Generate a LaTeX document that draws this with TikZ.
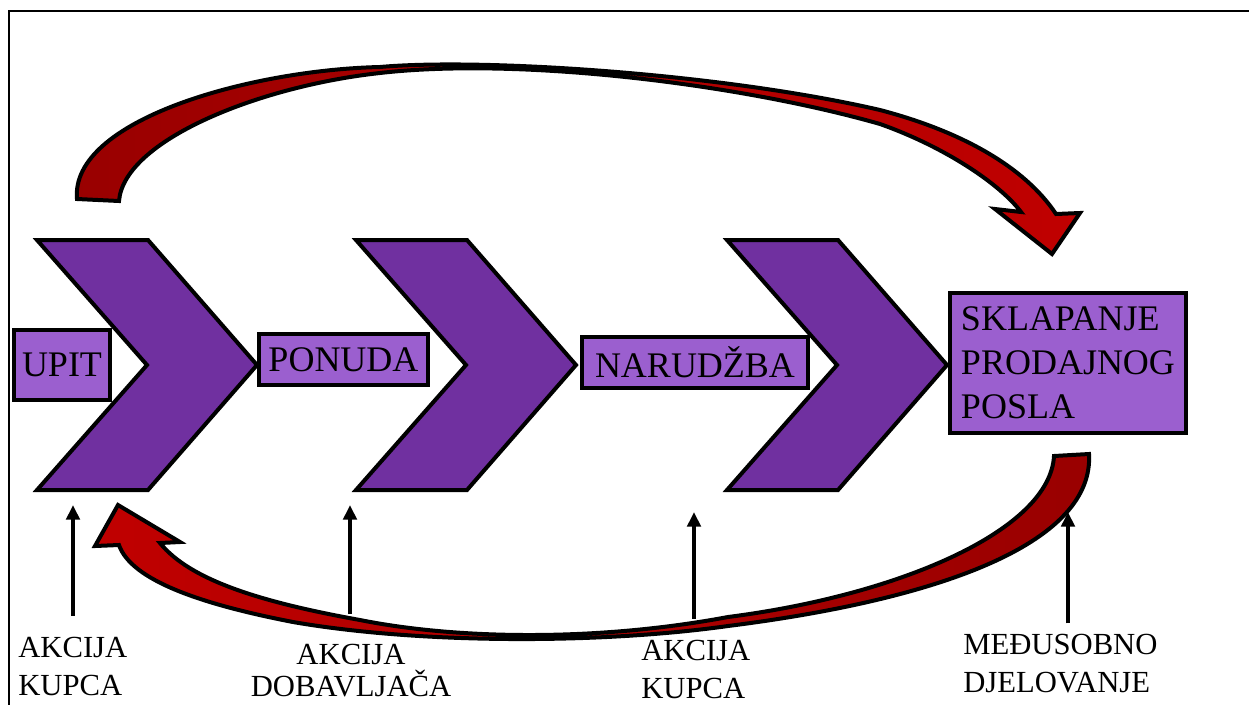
\documentclass[tikz,border=0pt]{standalone}
\usepackage{fontspec}
\setmainfont{Liberation Serif}
\usetikzlibrary{arrows.meta}
\definecolor{chevpurple}{RGB}{112,48,160}
\definecolor{boxpurple}{RGB}{155,95,207}
\definecolor{arrowdark}{RGB}{153,0,0}
\definecolor{arrowred}{RGB}{192,0,0}
\tikzset{
  chevron/.style={draw, line width=3pt, fill=chevpurple, line join=miter},
  stepbox/.style={draw, line width=3pt, fill=boxpurple, inner sep=0pt, align=left, font=\fontsize{27}{33}\selectfont},
  actlabel/.style={inner sep=0pt, font=\fontsize{23}{28}\selectfont},
  bigarrow/.style={draw, line width=3pt, line join=miter},
  uparrow/.style={line width=3pt, -{Triangle[length=11pt,width=10pt]}}
}
\begin{document}
\begin{tikzpicture}[x=0.75pt,y=0.75pt,yscale=-1,xscale=1]
        \useasboundingbox (0,0) rectangle (1249,704);
        %Shape: Frame
        \draw [line width=1.5pt] (9,720) -- (9,11) -- (1260,11) ;
        %Shape: Chevrons
        \foreach \x in {37,356,727}
          \draw [chevron] (\x,240) -- ++(111,0) -- ++(109,125) -- ++(-109,125) -- ++(-111,0) -- ++(110,-125) -- cycle ;
        %Shape: Rectangles
        \node [stepbox, minimum width=72pt, minimum height=52.5pt] (upit) at (62,365) {UPIT};
        \node [stepbox, minimum width=126.75pt, minimum height=38.25pt] (ponuda) at (343.5,359.5) {PONUDA};
        \node [stepbox, minimum width=169.5pt, minimum height=38.25pt] (narudzba) at (695,362.5) {NARUDŽBA};
        \node [stepbox, minimum width=177pt, minimum height=105pt] (posao) at (1068,363) {SKLAPANJE\\PRODAJNOG\\POSLA};
        %Shape: Curved Arrow (top)
        \draw [bigarrow, left color=arrowdark, right color=arrowred] (77,199) .. controls (70,120) and (250,70) .. (380,67) .. controls (480,58) and (720,73) .. (880,110) .. controls (960,131) and (1024,166) .. (1056,214) -- (1080,213) -- (1052,254) -- (995,209) -- (1021,212) .. controls (1000,184) and (945,147) .. (880,124) .. controls (740,84) and (520,57) .. (380,73) .. controls (260,86) and (124,140) .. (119,201) -- cycle ;
        %Shape: Curved Arrow (bottom)
        \draw [bigarrow, left color=arrowred, right color=arrowdark] (1089,454) .. controls (1094,540) and (950,598) .. (728,626) .. controls (600,644) and (420,644) .. (293,622) .. controls (200,604) and (131,580) .. (119,545) -- (95,546) -- (118,505) -- (180,542) -- (160,543) .. controls (190,580) and (260,602) .. (360,620) .. controls (460,640) and (600,641) .. (728,617) .. controls (900,595) and (1050,530) .. (1054,456) -- cycle ;
        %Text Nodes
        \node [actlabel, anchor=base west, align=left] (lab1) at (18,695) {AKCIJA\\KUPCA};
        \node [actlabel, anchor=base, align=center, font=\fontsize{23}{24}\selectfont] (lab2) at (351,696) {AKCIJA\\DOBAVLJAČA};
        \node [actlabel, anchor=base west, align=left] (lab3) at (641,698) {AKCIJA\\KUPCA};
        \node [actlabel, anchor=base west, align=left] (lab4) at (963,692) {MEĐUSOBNO\\DJELOVANJE};
        %Straight Lines
        \coordinate (t1) at (73,505);
        \coordinate (t2) at (350,505);
        \coordinate (t3) at (694,512);
        \coordinate (t4) at (1068,512);
        \draw [uparrow, shorten <=16pt] (t1 |- lab1.north) -- (t1) ;
        \draw [uparrow, shorten <=22pt] (t2 |- lab2.north) -- (t2) ;
        \draw [uparrow, shorten <=16pt] (t3 |- lab3.north) -- (t3) ;
        \draw [uparrow, shorten <=8pt] (t4 |- lab4.north) -- (t4) ;
\end{tikzpicture}
\end{document}
